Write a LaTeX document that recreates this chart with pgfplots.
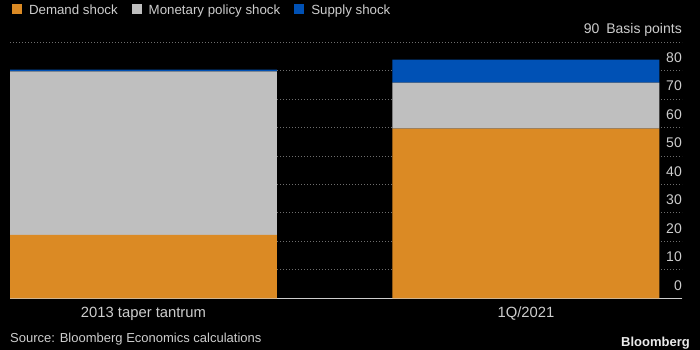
\documentclass[border=0pt]{standalone}
\usepackage{fontspec}
\setmainfont{Liberation Sans}
\usepackage{pgfplots}
\pgfplotsset{compat=1.18}
\definecolor{demand}{RGB}{219,138,36}
\definecolor{monetary}{RGB}{191,191,191}
\definecolor{supply}{RGB}{0,81,181}
\definecolor{txt}{RGB}{205,205,205}
\definecolor{gridc}{RGB}{110,110,110}
\begin{document}
\begin{tikzpicture}
\fill[black] (0,0) rectangle (700bp,350bp);
\useasboundingbox (0,0) rectangle (700bp,350bp);
\begin{axis}[
 at={(10bp,51.7bp)}, anchor=south west,
 scale only axis, width=672bp, height=256.3bp,
 ybar stacked, bar width=0.698,
 xmin=-0.349, xmax=1.408, ymin=0, ymax=90,
 xtick={0,1}, xticklabels={2013 taper tantrum, 1Q/2021},
 ytick={0,10,20,30,40,50,60,70,80,90},
 yticklabels={0,10,20,30,40,50,60,70,80,{90\enspace Basis points}},
 yticklabel pos=right,
 axis line style={draw=none},
 major tick length=0,
 ymajorgrids, grid style={gridc, dash pattern=on 1bp off 2bp, line width=0.8bp},
 tick label style={font=\fontsize{14bp}{16bp}\selectfont, text=txt},
 yticklabel style={anchor=base east, inner sep=0pt, yshift=8bp},
 xticklabel style={anchor=base, inner sep=0pt, yshift=-19bp, font=\fontsize{14.8bp}{17bp}\selectfont},
 legend columns=3,
 legend style={at={(0.003,1.152)}, anchor=north west, draw=none, fill=none,
   inner sep=0pt, outer sep=0pt, text=txt,
   font=\fontsize{13.3bp}{16bp}\selectfont,
   cells={anchor=base west, inner sep=0pt},
   /tikz/every odd column/.append style={column sep=5bp},
   /tikz/every even column/.append style={column sep=12bp}},
 legend image code/.code={\fill[#1] (0bp,1bp) rectangle (10bp,10.3bp);},
]
\addplot[fill=demand, draw=none] coordinates {(0,22.3) (1,59.6)};
\addplot[fill=monetary, draw=none] coordinates {(0,57.4) (1,16.1)};
\addplot[fill=supply, draw=none] coordinates {(0,0.6) (1,8.1)};
\legend{Demand shock, Monetary policy shock, Supply shock}
\draw[txt, line width=1bp] (rel axis cs:0,0) -- (rel axis cs:1,0);
\end{axis}
\node[anchor=base west, text=txt, font=\fontsize{13bp}{16bp}\selectfont, inner sep=0pt] at (10bp,8bp) {Source: Bloomberg Economics calculations};
\node[anchor=base east, text=white!92!black, font=\bfseries\fontsize{13bp}{15bp}\selectfont, inner sep=0pt] at (690bp,4bp) {Bloomberg};
\end{tikzpicture}
\end{document}
